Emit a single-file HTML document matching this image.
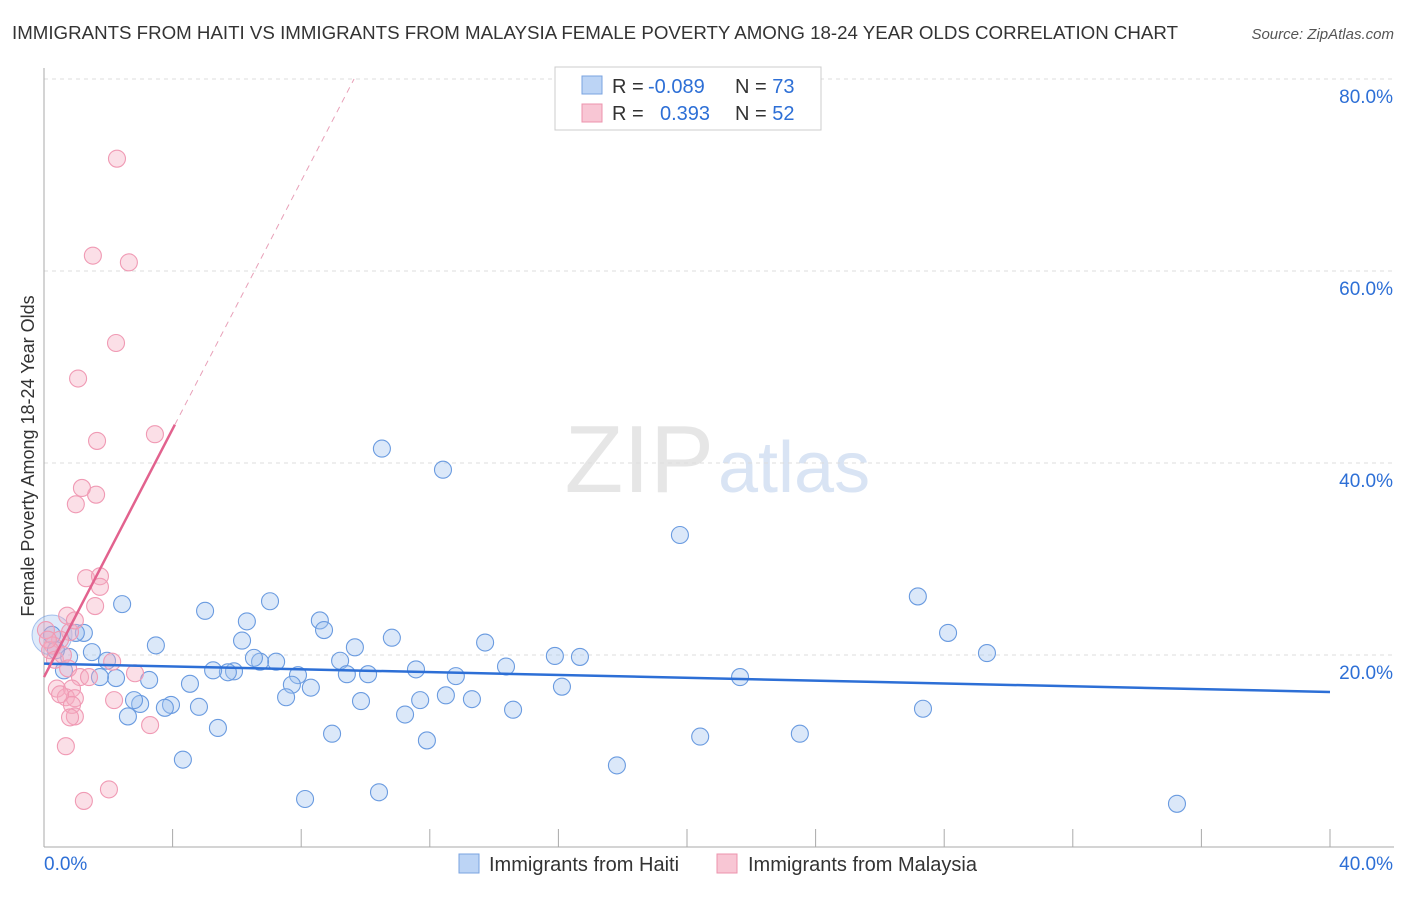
<!DOCTYPE html>
<html><head><meta charset="utf-8"><style>
body{margin:0;background:#fff;font-family:"Liberation Sans",sans-serif}
svg text{font-family:"Liberation Sans",sans-serif}
</style></head><body>
<svg id="c" width="1406" height="892">
<text x="12" y="39" font-size="18" fill="#333" textLength="1166" lengthAdjust="spacingAndGlyphs">IMMIGRANTS FROM HAITI VS IMMIGRANTS FROM MALAYSIA FEMALE POVERTY AMONG 18-24 YEAR OLDS CORRELATION CHART</text>
<text x="1394" y="39" font-size="15" fill="#555" text-anchor="end" font-style="italic">Source: ZipAtlas.com</text>
<text x="714" y="492" font-size="96" fill="#e6e6e6" text-anchor="end" font-family="Liberation Serif">ZIP</text>
<text x="718" y="492" font-size="72" fill="#d9e4f4">atlas</text>
<text x="34" y="456" font-size="18" fill="#333" text-anchor="middle" transform="rotate(-90 34 456)">Female Poverty Among 18-24 Year Olds</text>
<g id="grid"></g><g id="pts"></g><g id="lines"></g>
<g>
<rect x="555" y="67" width="266" height="63" fill="#fff" stroke="#ccc"/>
<rect x="582" y="76" width="20" height="18" fill="#bcd4f5" stroke="#7aa3e0"/>
<rect x="582" y="104" width="20" height="18" fill="#f8c6d4" stroke="#ec93ad"/>
<text x="612" y="93" font-size="20" fill="#333">R = <tspan fill="#2d6fd6" x="648">-0.089</tspan></text>
<text x="735" y="93" font-size="20" fill="#333">N = <tspan fill="#2d6fd6">73</tspan></text>
<text x="612" y="120" font-size="20" fill="#333">R = <tspan fill="#2d6fd6" x="660">0.393</tspan></text>
<text x="735" y="120" font-size="20" fill="#333">N = <tspan fill="#2d6fd6">52</tspan></text>
</g>
<g>
<rect x="459" y="854" width="20" height="19" fill="#bcd4f5" stroke="#7aa3e0"/>
<text x="489" y="871" font-size="20" fill="#333">Immigrants from Haiti</text>
<rect x="717" y="854" width="20" height="19" fill="#f8c6d4" stroke="#ec93ad"/>
<text x="748" y="871" font-size="20" fill="#333">Immigrants from Malaysia</text>
</g>
</svg>
<script>
const yTicks=[20,40,60,80];
const yTickLabels=["20.0%","40.0%","60.0%","80.0%"];
const haitiX=[10.51,12.41,19.78,27.18,28.12,29.33,21.65,27.34,23.51,20.41,17.82,35.24,15.89,16.67,16.11,14.37,13.72,14.59,13.31,12.5,12.81,11.57,11.7,11.23,11.91,10.82,10.42,10.08,9.67,9.21,9.42,9.86,8.96,8.12,8.58,8.71,7.9,7.71,8.3,7.53,7.03,7.22,6.72,6.53,6.16,6.31,5.91,5.72,5.26,5.01,4.82,5.41,4.54,4.32,3.95,3.76,3.27,3.48,2.99,2.8,2.61,2.43,2.24,1.74,1.96,1.49,1.24,0.99,0.78,0.62,0.37,0.25];
const haitiY=[41.5,39.3,32.5,26.1,22.3,20.2,17.7,14.4,11.8,11.5,8.5,4.5,19.9,19.8,16.7,18.8,21.3,14.3,15.4,15.8,17.8,18.5,15.3,13.8,11.1,21.8,5.7,18.0,20.8,19.4,18.0,15.2,11.8,5.0,23.6,22.6,17.9,16.9,16.6,15.6,25.6,19.3,19.3,19.7,21.5,23.5,18.3,18.2,18.4,24.6,14.6,12.4,17.0,9.1,14.8,14.5,17.4,21.0,14.9,15.3,13.6,25.3,17.6,17.7,19.4,20.3,22.3,22.3,19.8,18.4,20.5,22.1];
const malX=[2.27,1.52,2.64,2.24,1.06,3.45,1.65,1.62,1.18,0.99,1.31,1.74,1.74,1.59,0.72,0.81,0.5,0.28,0.19,0.34,0.59,0.75,2.12,2.83,1.12,1.4,0.4,0.87,0.68,0.96,0.5,0.87,0.96,0.81,2.18,3.3,0.68,2.02,1.24,0.06,0.12,0.96];
const malY=[71.7,61.6,60.9,52.5,48.8,43.0,42.3,36.7,37.4,35.7,28.0,28.2,27.1,25.1,24.1,22.4,21.6,21.0,20.5,19.5,20.0,18.6,19.3,18.1,17.7,17.7,16.5,16.5,15.6,15.5,15.9,14.8,13.6,13.5,15.3,12.7,10.5,6.0,4.8,22.6,21.6,23.6];
const trendHaiti=[19.1,16.15];
const trendMal=[17.7,6.46];
const X=v=>44+v*32.15, Y=v=>847-v*9.6;
const NS="http://www.w3.org/2000/svg";
function mk(p,t,a){const e=document.createElementNS(NS,t);for(const k in a)e.setAttribute(k,a[k]);p.appendChild(e);return e;}
const g=document.getElementById('grid');
yTicks.forEach((t,i)=>{
 const l=mk(g,'line',{x1:44,x2:1394,y1:Y(t),y2:Y(t),stroke:'#ddd','stroke-dasharray':'4 4'});
 
 
 const tx=mk(g,'text',{x:1393,y:Y(t)+24,'font-size':19,fill:'#2d6fd6','text-anchor':'end'});
 tx.textContent=yTickLabels[i];
 
 
});
mk(g,'line',{x1:44,x2:44,y1:68,y2:847,stroke:'#aaa'});
mk(g,'line',{x1:44,x2:1394,y1:847,y2:847,stroke:'#aaa'});
for(let i=1;i<=10;i++){mk(g,'line',{x1:44+i*128.6,x2:44+i*128.6,y1:829,y2:847,stroke:'#aaa'});}
let t0=mk(g,'text',{x:44,y:870,'font-size':19,fill:'#2d6fd6'});t0.textContent='0.0%';


let t1=mk(g,'text',{x:1393,y:870,'font-size':19,fill:'#2d6fd6','text-anchor':'end'});t1.textContent='40.0%';


const P=document.getElementById('pts');
mk(P,'circle',{cx:52,cy:635,r:20,fill:'rgba(160,195,240,0.35)',stroke:'rgba(90,140,220,0.5)'});
haitiX.forEach((x,i)=>{const c=mk(P,'circle',{cx:X(x),cy:Y(haitiY[i]),r:8.5,fill:'rgba(160,195,240,0.38)',stroke:'#6a9be0','stroke-width':1.1});
 
 });
malX.forEach((x,i)=>{const c=mk(P,'circle',{cx:X(x),cy:Y(malY[i]),r:8.5,fill:'rgba(245,170,192,0.38)',stroke:'#f09ab4','stroke-width':1.1});
 
 });
const L=document.getElementById('lines');
const lh=mk(L,'line',{x1:X(0),y1:Y(trendHaiti[0]),x2:X(40),y2:Y(trendHaiti[1]),stroke:'#2d6fd6','stroke-width':2.5});


const xe=4.07, xd=(80-trendMal[0])/trendMal[1];
const lm=mk(L,'line',{x1:X(0),y1:Y(trendMal[0]),x2:X(xe),y2:Y(trendMal[0]+trendMal[1]*xe),stroke:'#e2628e','stroke-width':2.5});


const ld=mk(L,'line',{x1:X(xe),y1:Y(trendMal[0]+trendMal[1]*xe),x2:X(xd),y2:Y(80),stroke:'#e8a0b8','stroke-width':1,'stroke-dasharray':'6 5'});


</script>
</body></html>
